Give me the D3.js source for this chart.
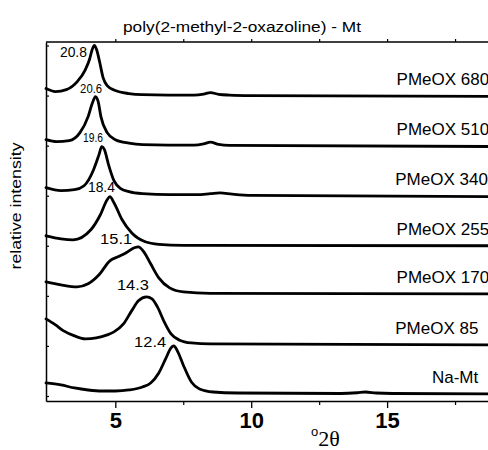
<!DOCTYPE html>
<html>
<head>
<meta charset="utf-8">
<script src="https://cdn.jsdelivr.net/npm/d3@7/dist/d3.min.js"></script>
<style>
body{margin:0;overflow:hidden;background:#fff}
text{font-family:"Liberation Sans",Arial,sans-serif;fill:#000}
</style>
</head>
<body>
<script>
// sample names, bottom to top
var names = ["Na-Mt","PMeOX 85","PMeOX 170","PMeOX 255","PMeOX 340","PMeOX 510","PMeOX 680"];
// basal spacing of each sample (Angstrom)
var dSpacing = [12.4, 14.3, 15.1, 18.4, 19.6, 20.6, 20.8];
// vertical shift of each pattern (intensity units)
var offsets = [0.04, 1.02, 2.04, 3.0, 4.0, 5.0, 6.0];

// patterns: [2theta, relative intensity]
var naMt = [[2.45,0.22],[3.0,0.18],[3.5,0.12],[4.0,0.08],[4.5,0.06],[5.0,0.06],[5.5,0.08],[6.0,0.14],[6.3,0.22],
  [6.6,0.42],[6.85,0.7],[7.05,0.92],[7.15,0.96],[7.3,0.84],[7.5,0.58],[7.8,0.24],[8.1,0.1],[8.6,0.04],[9.5,0.02],
  [13.3,0.01],[13.9,0.025],[14.2,0.04],[14.6,0.02],[15.2,0.01],[20,0]];
var pmeox85 = [[2.45,0.52],[2.8,0.4],[3.1,0.28],[3.5,0.18],[3.9,0.12],[4.3,0.14],[4.7,0.2],[4.95,0.26],[5.3,0.42],
  [5.6,0.68],[5.85,0.88],[6.15,0.96],[6.35,0.92],[6.55,0.76],[6.8,0.46],[7.05,0.22],[7.35,0.1],[7.8,0.04],[8.5,0.02],[20,0]];
var pmeox170 = [[2.45,0.24],[3.0,0.18],[3.6,0.14],[4.0,0.2],[4.4,0.38],[4.8,0.66],[5.1,0.74],[5.4,0.82],[5.7,0.92],
  [5.85,0.94],[6.05,0.84],[6.3,0.6],[6.6,0.32],[7.0,0.12],[7.5,0.04],[8.5,0.01],[20,0]];
var pmeox255 = [[2.45,0.2],[3.0,0.14],[3.45,0.12],[4.1,0.32],[4.45,0.62],[4.7,0.92],[4.8,0.98],[4.95,0.86],[5.25,0.52],
  [5.6,0.26],[6.1,0.08],[6.6,0.03],[7.5,0.01],[20,0]];
var pmeox340 = [[2.45,0.16],[3.0,0.1],[3.5,0.12],[3.85,0.2],[4.2,0.52],[4.4,0.82],[4.5,0.98],[4.6,0.92],[4.75,0.62],
  [4.95,0.3],[5.2,0.14],[5.5,0.08],[6.0,0.04],[7.0,0.02],[8.0,0.02],[8.5,0.04],[8.85,0.055],[9.3,0.03],[10,0.005],[20,-0.02]];
var pmeox510 = [[2.45,0.12],[2.85,0.08],[3.3,0.1],[3.7,0.26],[4.0,0.58],[4.15,0.84],[4.27,0.98],[4.37,0.88],[4.47,0.58],
  [4.7,0.26],[5.0,0.12],[5.5,0.05],[6.0,0.02],[7.9,0.01],[8.25,0.035],[8.5,0.07],[8.8,0.025],[9.2,0.005],[20,-0.02]];
var pmeox680 = [[2.45,0.14],[2.8,0.08],[3.2,0.12],[3.6,0.28],[3.9,0.52],[4.05,0.72],[4.15,0.92],[4.23,1.0],[4.31,0.92],
  [4.42,0.68],[4.55,0.36],[4.7,0.2],[5.0,0.1],[5.5,0.04],[6.0,0.02],[7.9,0.01],[8.25,0.03],[8.5,0.06],[8.8,0.025],
  [9.2,0.01],[10,0],[20,-0.02]];
var patterns = [naMt, pmeox85, pmeox170, pmeox255, pmeox340, pmeox510, pmeox680];

var majorTicks = [5, 10, 15];
var minorTicks = [7.5, 12.5, 17.5];
var yTicks = [0, 1, 2, 3, 4, 5, 6, 7];

var W = 488, H = 450;
var svg = d3.select("body").append("svg").attr("width", W).attr("height", H);

var x = d3.scaleLinear().domain([2.45, 20]).range([46, 523]);
var y = d3.scaleLinear().domain([-0.1, 7.07]).range([401, 42]);

// frame
svg.append("line").attr("x1", 46).attr("x2", 523).attr("y1", 42).attr("y2", 42)
  .attr("stroke", "#000").attr("stroke-width", 1.3);

svg.append("g").attr("transform", "translate(0,42)")
  .call(d3.axisTop(x).tickValues(majorTicks.concat(minorTicks)).tickSize(3).tickSizeOuter(0).tickFormat(""))
  .call(function(g){ g.select(".domain").remove(); g.selectAll("line").attr("stroke-width", 1.2); });

var xAx = svg.append("g").attr("transform", "translate(0,401)")
  .call(d3.axisBottom(x).tickValues(majorTicks).tickSize(7).tickSizeOuter(0).tickPadding(4).tickFormat(d3.format("d")));
xAx.select(".domain").attr("stroke-width", 1.5);
xAx.selectAll("line").attr("stroke-width", 1.3);
xAx.selectAll("text").attr("font-size", 22).attr("font-weight", "bold")
  .attr("font-family", "'Liberation Sans',Arial,sans-serif");

svg.append("g").attr("transform", "translate(0,401)")
  .call(d3.axisBottom(x).tickValues(minorTicks).tickSize(4).tickSizeOuter(0).tickFormat(""))
  .call(function(g){ g.select(".domain").remove(); g.selectAll("line").attr("stroke-width", 1.2); });

var yAx = svg.append("g").attr("transform", "translate(46,0)")
  .call(d3.axisLeft(y).tickValues(yTicks).tickSize(-3).tickSizeOuter(0).tickFormat(""));
yAx.select(".domain").attr("stroke-width", 1.5);
yAx.selectAll("line").attr("stroke-width", 1.2);

// patterns
var line = d3.line().curve(d3.curveMonotoneX);
svg.append("g").selectAll("path").data(patterns).enter().append("path")
  .attr("d", function(p, i){ return line(p.map(function(d){ return [x(d[0]), y(d[1] + offsets[i])]; })); })
  .attr("fill", "none").attr("stroke", "#000").attr("stroke-width", 2.8)
  .attr("stroke-linejoin", "round").attr("stroke-linecap", "round");

// sample names
var nameX = [16.65, 15.3, 15.35, 15.35, 15.3, 15.35, 15.35];
svg.append("g").selectAll("text").data(names).enter().append("text")
  .attr("x", function(d, i){ return x(nameX[i]); })
  .attr("y", function(d, i){ return y(offsets[i]) - 11; })
  .attr("font-size", 17).text(function(d){ return d; });

// d-spacing labels
var dLab = [
  {x: 6.28, y: 0.98, fs: 15, w: 32},
  {x: 5.65, y: 2.12, fs: 15, w: 32},
  {x: 5.03, y: 3.03, fs: 15, w: 32},
  {x: 4.49, y: 4.07, fs: 14, w: 27},
  {x: 4.18, y: 5.07, fs: 12, w: 20},
  {x: 4.11, y: 6.05, fs: 12.5, w: 22},
  {x: 3.46, y: 6.77, fs: 14, w: 27}
];
svg.append("g").selectAll("text").data(dSpacing).enter().append("text")
  .attr("x", function(d, i){ return x(dLab[i].x); })
  .attr("y", function(d, i){ return y(dLab[i].y); })
  .attr("text-anchor", "middle")
  .attr("font-size", function(d, i){ return dLab[i].fs; })
  .attr("textLength", function(d, i){ return dLab[i].w; })
  .attr("lengthAdjust", "spacingAndGlyphs")
  .text(d3.format(".1f"));

// title
svg.append("text").attr("x", 242).attr("y", 32).attr("text-anchor", "middle")
  .attr("font-size", 15.5).attr("textLength", 238).attr("lengthAdjust", "spacingAndGlyphs")
  .text("poly(2-methyl-2-oxazoline) - Mt");

// axis titles
svg.append("text").attr("transform", "translate(21,206) rotate(-90)").attr("text-anchor", "middle")
  .attr("font-size", 14.5).attr("textLength", 127).attr("lengthAdjust", "spacingAndGlyphs")
  .text("relative intensity");

var xl = svg.append("text").attr("x", 311).attr("y", 446);
xl.append("tspan").attr("font-size", 13).attr("dy", -10).text("o");
xl.append("tspan").attr("font-size", 22).attr("dy", 10)
  .attr("font-family", "'Liberation Serif','Times New Roman',serif").text("2θ");
</script>
</body>
</html>
